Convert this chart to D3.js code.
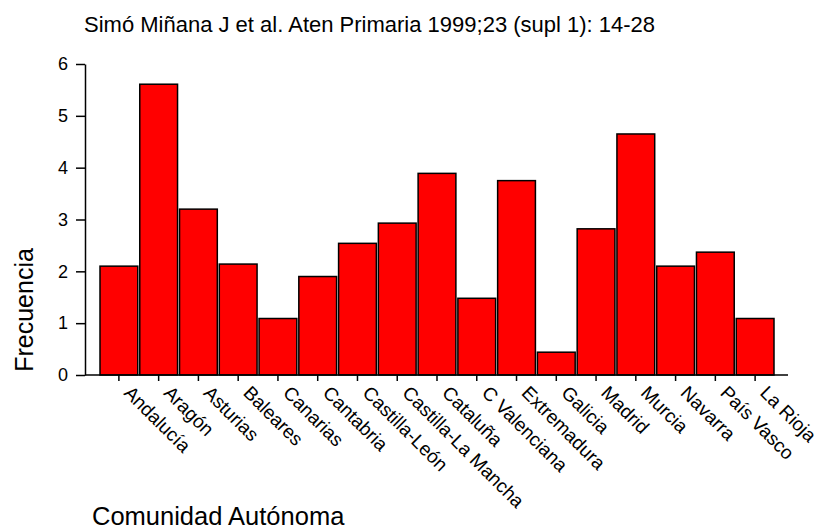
<!DOCTYPE html>
<html>
<head>
<meta charset="utf-8">
<script src="https://cdn.jsdelivr.net/npm/d3@7"></script>
<style>
  body { margin: 0; background: #fff; }
  text { font-family: "Liberation Sans", Arial, sans-serif; fill: #000; }
</style>
</head>
<body>
<div id="chart"></div>
<script>
var comunidades = ["Andalucía", "Aragón", "Asturias", "Baleares", "Canarias", "Cantabria",
    "Castilla-León", "Castilla-La Mancha", "Cataluña", "C Valenciana", "Extremadura",
    "Galicia", "Madrid", "Murcia", "Navarra", "País Vasco", "La Rioja"];
var frecuencia = [2.10, 5.61, 3.20, 2.14, 1.09, 1.90, 2.54, 2.93, 3.89, 1.48, 3.75,
    0.44, 2.82, 4.65, 2.10, 2.37, 1.09];
var yTicks = [0, 1, 2, 3, 4, 5, 6];
var titulo = "Simó Miñana J et al. Aten Primaria 1999;23 (supl 1): 14-28";

var width = 821, height = 529;
var axisLeftX = 85, axisRightX = 788;

var svg = d3.select("#chart").append("svg")
    .attr("width", width)
    .attr("height", height);

var y = d3.scaleLinear()
    .domain([0, 6])
    .range([375, 64]);

var x = d3.scaleBand()
    .domain(comunidades)
    .range([100, 774])
    .paddingInner(0.05)
    .paddingOuter(0);

// bars
svg.selectAll(".bar")
    .data(frecuencia)
    .enter().append("rect")
    .attr("class", "bar")
    .attr("x", function(d, i) { return x(comunidades[i]); })
    .attr("y", function(d) { return y(d); })
    .attr("width", x.bandwidth())
    .attr("height", function(d) { return y(0) - y(d); })
    .style("fill", "#ff0000")
    .style("stroke", "#000")
    .style("stroke-width", 1.5);

// y axis
var yAxis = svg.append("g")
    .attr("transform", "translate(" + axisLeftX + ",0)")
    .call(d3.axisLeft(y).tickValues(yTicks).tickFormat(d3.format("d"))
        .tickSize(9).tickSizeOuter(0).tickPadding(8));
yAxis.select(".domain").style("stroke", "#000").style("stroke-width", 1.5);
yAxis.selectAll(".tick line").style("stroke", "#000").style("stroke-width", 1.5);
yAxis.selectAll("text").style("font-size", "18px").style("font-family", "Liberation Sans, Arial, sans-serif");

// x axis
var xAxis = svg.append("g")
    .attr("transform", "translate(0," + y(0) + ")")
    .call(d3.axisBottom(x).tickSize(6).tickSizeOuter(0));
xAxis.select(".domain").remove();
xAxis.append("line")
    .attr("x1", axisLeftX).attr("x2", axisRightX)
    .attr("y1", 0).attr("y2", 0)
    .style("stroke", "#000").style("stroke-width", 1.5);
xAxis.selectAll(".tick line").style("stroke", "#000").style("stroke-width", 1.5);
xAxis.selectAll(".tick text")
    .attr("x", 0).attr("y", 0).attr("dy", null)
    .attr("text-anchor", "start")
    .attr("transform", "translate(4,19) rotate(45)")
    .style("font-size", "19px")
    .style("font-family", "Liberation Sans, Arial, sans-serif");

// title
svg.append("text")
    .attr("x", 84)
    .attr("y", 32)
    .style("font-size", "22px")
    .text(titulo);

// axis titles
svg.append("text")
    .attr("transform", "translate(33,310) rotate(-90)")
    .attr("text-anchor", "middle")
    .style("font-size", "25px")
    .text("Frecuencia");

svg.append("text")
    .attr("x", 92)
    .attr("y", 525)
    .style("font-size", "25.5px")
    .text("Comunidad Autónoma");
</script>
</body>
</html>
